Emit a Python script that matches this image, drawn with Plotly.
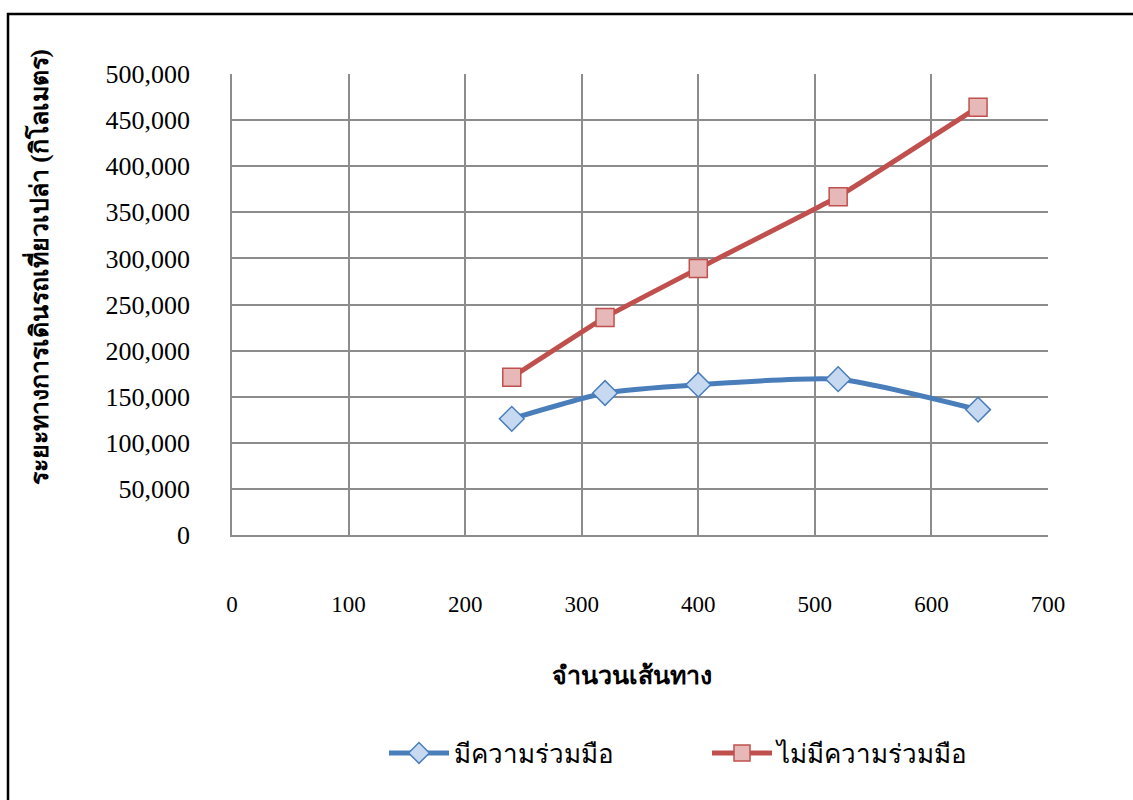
import plotly.graph_objects as go

# Number of routes (x) and empty-running distance in km (y)
routes = [240, 320, 400, 520, 640]
with_coop = [126000, 154000, 163000, 169000, 136000]
without_coop = [171000, 236000, 289000, 367000, 464000]

series_names = ["มีความร่วมมือ", "ไม่มีความร่วมมือ"]
x_title = "จำนวนเส้นทาง"
y_title = "ระยะทางการเดินรถเที่ยวเปล่า (กิโลเมตร)"

x_ticks = [0, 100, 200, 300, 400, 500, 600, 700]
y_ticks = [0, 50000, 100000, 150000, 200000, 250000, 300000, 350000, 400000, 450000, 500000]

FONT = "Liberation Serif, Times New Roman, serif"
GRID = "#8c8c8c"

fig = go.Figure()

fig.add_trace(go.Scatter(
    x=routes, y=with_coop, name=series_names[0],
    mode="lines+markers",
    line=dict(color="#4A7EBB", width=5, shape="spline", smoothing=0.6),
    marker=dict(symbol="diamond", size=19, color="#C6D9F1",
                line=dict(color="#4A7EBB", width=1.5)),
))
fig.add_trace(go.Scatter(
    x=routes, y=without_coop, name=series_names[1],
    mode="lines+markers",
    line=dict(color="#C0504D", width=5, shape="spline", smoothing=0.3),
    marker=dict(symbol="square", size=18, color="#E6B9B8",
                line=dict(color="#C0504D", width=1.5)),
))

fig.update_layout(
    width=1133, height=800,
    margin=dict(l=232, r=85, t=74, b=265),
    paper_bgcolor="white", plot_bgcolor="white",
    font=dict(family=FONT, size=22, color="black"),
    showlegend=True,
    legend=dict(orientation="h", x=(384 - 232) / 816, y=-0.473, xanchor="left", yanchor="middle",
                font=dict(size=26), itemwidth=60, entrywidth=248,
                bgcolor="rgba(0,0,0,0)"),
    xaxis=dict(range=[0, 700], tickvals=x_ticks, showgrid=True, gridcolor=GRID, gridwidth=1.5,
               zeroline=False, showline=True, linecolor=GRID, linewidth=2, mirror=False,
               ticks="", ticklabelstandoff=47, tickfont=dict(size=23)),
    yaxis=dict(range=[0, 500000], tickvals=y_ticks, tickformat=",d", showgrid=True,
               gridcolor=GRID, gridwidth=1.5, zeroline=False, showline=True,
               linecolor=GRID, linewidth=1.5, ticks="", ticklabelstandoff=35,
               tickfont=dict(size=26)),
    annotations=[
        dict(text="<b>" + x_title + "</b>", xref="paper", yref="paper",
             x=(632 - 232) / 816, y=(535 - 675) / 461, xanchor="center", yanchor="middle",
             showarrow=False, font=dict(size=25)),
        dict(text="<b>" + y_title + "</b>", xref="paper", yref="paper",
             x=(38 - 232) / 816, y=(535 - 267) / 461, xanchor="center", yanchor="middle",
             textangle=-90, showarrow=False, font=dict(size=25)),
    ],
    shapes=[
        dict(type="rect", xref="paper", yref="paper",
             x0=(8 - 232) / 816, x1=(1140 - 232) / 816,
             y0=(535 - 810) / 461, y1=(535 - 14) / 461,
             line=dict(color="black", width=2.5), layer="below"),
    ],
)

fig.write_html("out.html")
